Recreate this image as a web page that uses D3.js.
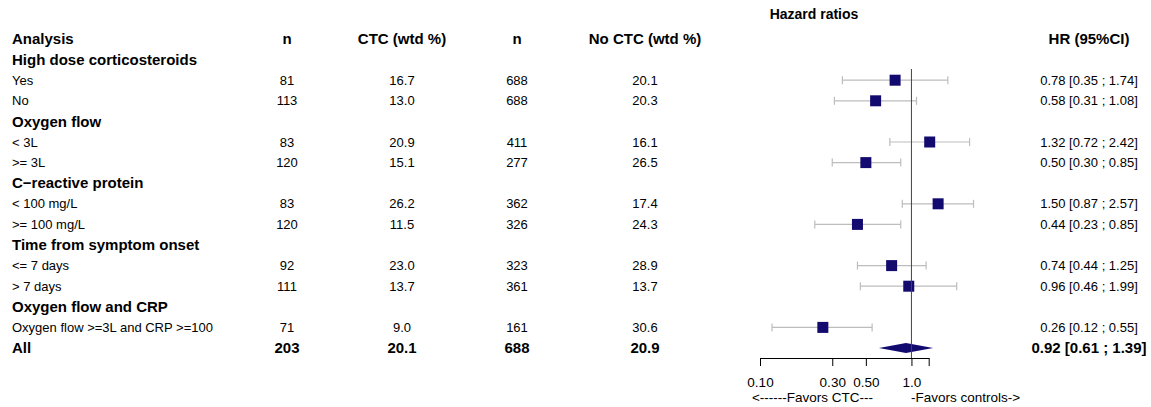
<!DOCTYPE html>
<html>
<head>
<meta charset="utf-8">
<script src="https://cdn.jsdelivr.net/npm/d3@7/dist/d3.min.js"></script>
<style>
  html, body { margin: 0; padding: 0; background: #fff; }
  svg { display: block; font-family: "Liberation Sans", Arial, sans-serif; }
</style>
</head>
<body>
<svg id="chart" width="1151" height="407"></svg>
<script>
// Row labels, in display order; group headings have no values
const labels = ["High dose corticosteroids", "Yes", "No",
  "Oxygen flow", "< 3L", ">= 3L",
  "C\u2212reactive protein", "< 100 mg/L", ">= 100 mg/L",
  "Time from symptom onset", "<= 7 days", "> 7 days",
  "Oxygen flow and CRP", "Oxygen flow >=3L and CRP >=100",
  "All"];
const isHeading = [true, false, false, true, false, false, true, false, false, true, false, false, true, false, false];
const nCTC     = [null, 81, 113, null, 83, 120, null, 83, 120, null, 92, 111, null, 71, 203];
const pctCTC   = [null, 16.7, 13.0, null, 20.9, 15.1, null, 26.2, 11.5, null, 23.0, 13.7, null, 9.0, 20.1];
const nNoCTC   = [null, 688, 688, null, 411, 277, null, 362, 326, null, 323, 361, null, 161, 688];
const pctNoCTC = [null, 20.1, 20.3, null, 16.1, 26.5, null, 17.4, 24.3, null, 28.9, 13.7, null, 30.6, 20.9];
const hr       = [null, 0.78, 0.58, null, 1.32, 0.50, null, 1.50, 0.44, null, 0.74, 0.96, null, 0.26, 0.92];
const hrLow    = [null, 0.35, 0.31, null, 0.72, 0.30, null, 0.87, 0.23, null, 0.44, 0.46, null, 0.12, 0.61];
const hrHigh   = [null, 1.74, 1.08, null, 2.42, 0.85, null, 2.57, 0.85, null, 1.25, 1.99, null, 0.55, 1.39];

const columnTitles = ["Analysis", "n", "CTC (wtd %)", "n", "No CTC (wtd %)", "HR (95%CI)"];
const tickValues = [0.10, 0.30, 0.50, 1.0, 1.3];
const tickLabels = ["0.10", "0.30", "0.50", "1.0", ""];

const rows = labels.map((label, i) => ({
  label, heading: isHeading[i], total: i === labels.length - 1,
  n1: nCTC[i], p1: pctCTC[i], n2: nNoCTC[i], p2: pctNoCTC[i],
  hr: hr[i], lo: hrLow[i], hi: hrHigh[i]
}));

const svg = d3.select("#chart");
const navy = "#130a6f";
const boldSize = 15, textSize = 13;

// Vertical layout: the column-title line followed by one line per row
const y = d3.scalePoint()
  .domain(d3.range(rows.length + 1))
  .range([39, 348]);

// Log scale for the hazard ratios
const x = d3.scaleLog().domain([0.1, 1.3]).range([760, 928.7]);

// Column centres for the table part
const colX = { label: 12, n1: 287, p1: 402, n2: 517, p2: 645, hr: 1089 };

// Column titles
const titleX = [colX.label, colX.n1, colX.p1, colX.n2, colX.p2, colX.hr];
svg.append("g").selectAll("text").data(columnTitles).join("text")
  .attr("x", (d, i) => titleX[i])
  .attr("y", y(0))
  .attr("dy", "0.35em")
  .attr("text-anchor", (d, i) => i === 0 ? "start" : "middle")
  .attr("font-size", boldSize).attr("font-weight", "bold")
  .text(d => d);

svg.append("text")
  .attr("x", 814).attr("y", 14).attr("dy", "0.35em")
  .attr("text-anchor", "middle")
  .attr("font-size", 14).attr("font-weight", "bold")
  .text("Hazard ratios");

// Table rows
const rowG = svg.append("g").selectAll("g").data(rows).join("g")
  .attr("transform", (d, i) => `translate(0,${y(i + 1)})`);

rowG.append("text")
  .attr("x", colX.label).attr("dy", "0.35em")
  .attr("font-size", d => d.heading || d.total ? boldSize : textSize)
  .attr("font-weight", d => d.heading || d.total ? "bold" : "normal")
  .text(d => d.label);

const valueCols = [
  { key: "n1", fmt: d3.format("d") },
  { key: "p1", fmt: d3.format(".1f") },
  { key: "n2", fmt: d3.format("d") },
  { key: "p2", fmt: d3.format(".1f") }
];
valueCols.forEach(c => {
  rowG.filter(d => !d.heading).append("text")
    .attr("x", colX[c.key]).attr("dy", "0.35em")
    .attr("text-anchor", "middle")
    .attr("font-size", d => d.total ? boldSize : textSize)
    .attr("font-weight", d => d.total ? "bold" : "normal")
    .text(d => c.fmt(d[c.key]));
});

const f2 = d3.format(".2f");
rowG.filter(d => !d.heading).append("text")
  .attr("x", colX.hr).attr("dy", "0.35em")
  .attr("text-anchor", "middle")
  .attr("font-size", d => d.total ? boldSize : textSize)
  .attr("font-weight", d => d.total ? "bold" : "normal")
  .text(d => `${f2(d.hr)} [${f2(d.lo)} ; ${f2(d.hi)}]`);

// Line of no effect
svg.append("line")
  .attr("x1", x(1)).attr("x2", x(1))
  .attr("y1", 69).attr("y2", 358)
  .attr("stroke", "#444").attr("stroke-width", 1);

// Confidence intervals with end caps
const ciRows = rowG.filter(d => !d.heading && !d.total);
ciRows.append("line")
  .attr("x1", d => x(d.lo)).attr("x2", d => x(d.hi))
  .attr("stroke", "#bdbdbd").attr("stroke-width", 1.2);
ciRows.append("line")
  .attr("x1", d => x(d.lo)).attr("x2", d => x(d.lo))
  .attr("y1", -4).attr("y2", 4)
  .attr("stroke", "#bdbdbd").attr("stroke-width", 1.2);
ciRows.append("line")
  .attr("x1", d => x(d.hi)).attr("x2", d => x(d.hi))
  .attr("y1", -4).attr("y2", 4)
  .attr("stroke", "#bdbdbd").attr("stroke-width", 1.2);

// Point estimates
const sq = 11;
ciRows.append("rect")
  .attr("x", d => x(d.hr) - sq / 2).attr("y", -sq / 2)
  .attr("width", sq).attr("height", sq)
  .attr("fill", navy);

// Overall estimate as a diamond
rowG.filter(d => d.total).append("path")
  .attr("d", d => `M${x(d.lo)},0L${x(d.hr)},-5L${x(d.hi)},0L${x(d.hr)},5Z`)
  .attr("fill", navy);

// Axis
const axis = d3.axisBottom(x)
  .tickValues(tickValues)
  .tickFormat((d, i) => tickLabels[i])
  .tickSize(8).tickSizeOuter(0);
const axG = svg.append("g")
  .attr("transform", "translate(0,358)")
  .call(axis);
axG.select(".domain").attr("stroke", "#000");
axG.selectAll(".tick line").attr("stroke", "#000");
axG.selectAll(".tick text")
  .attr("font-family", "Liberation Sans, Arial, sans-serif")
  .attr("font-size", 13.5).attr("fill", "#000").attr("dy", "1.33em");

svg.append("text")
  .attr("x", 873).attr("y", 397).attr("dy", "0.35em")
  .attr("text-anchor", "end").attr("font-size", 13.5)
  .text("<------Favors CTC---");
svg.append("text")
  .attr("x", 911).attr("y", 397).attr("dy", "0.35em")
  .attr("text-anchor", "start").attr("font-size", 13.5)
  .text("-Favors controls->");
</script>
</body>
</html>
